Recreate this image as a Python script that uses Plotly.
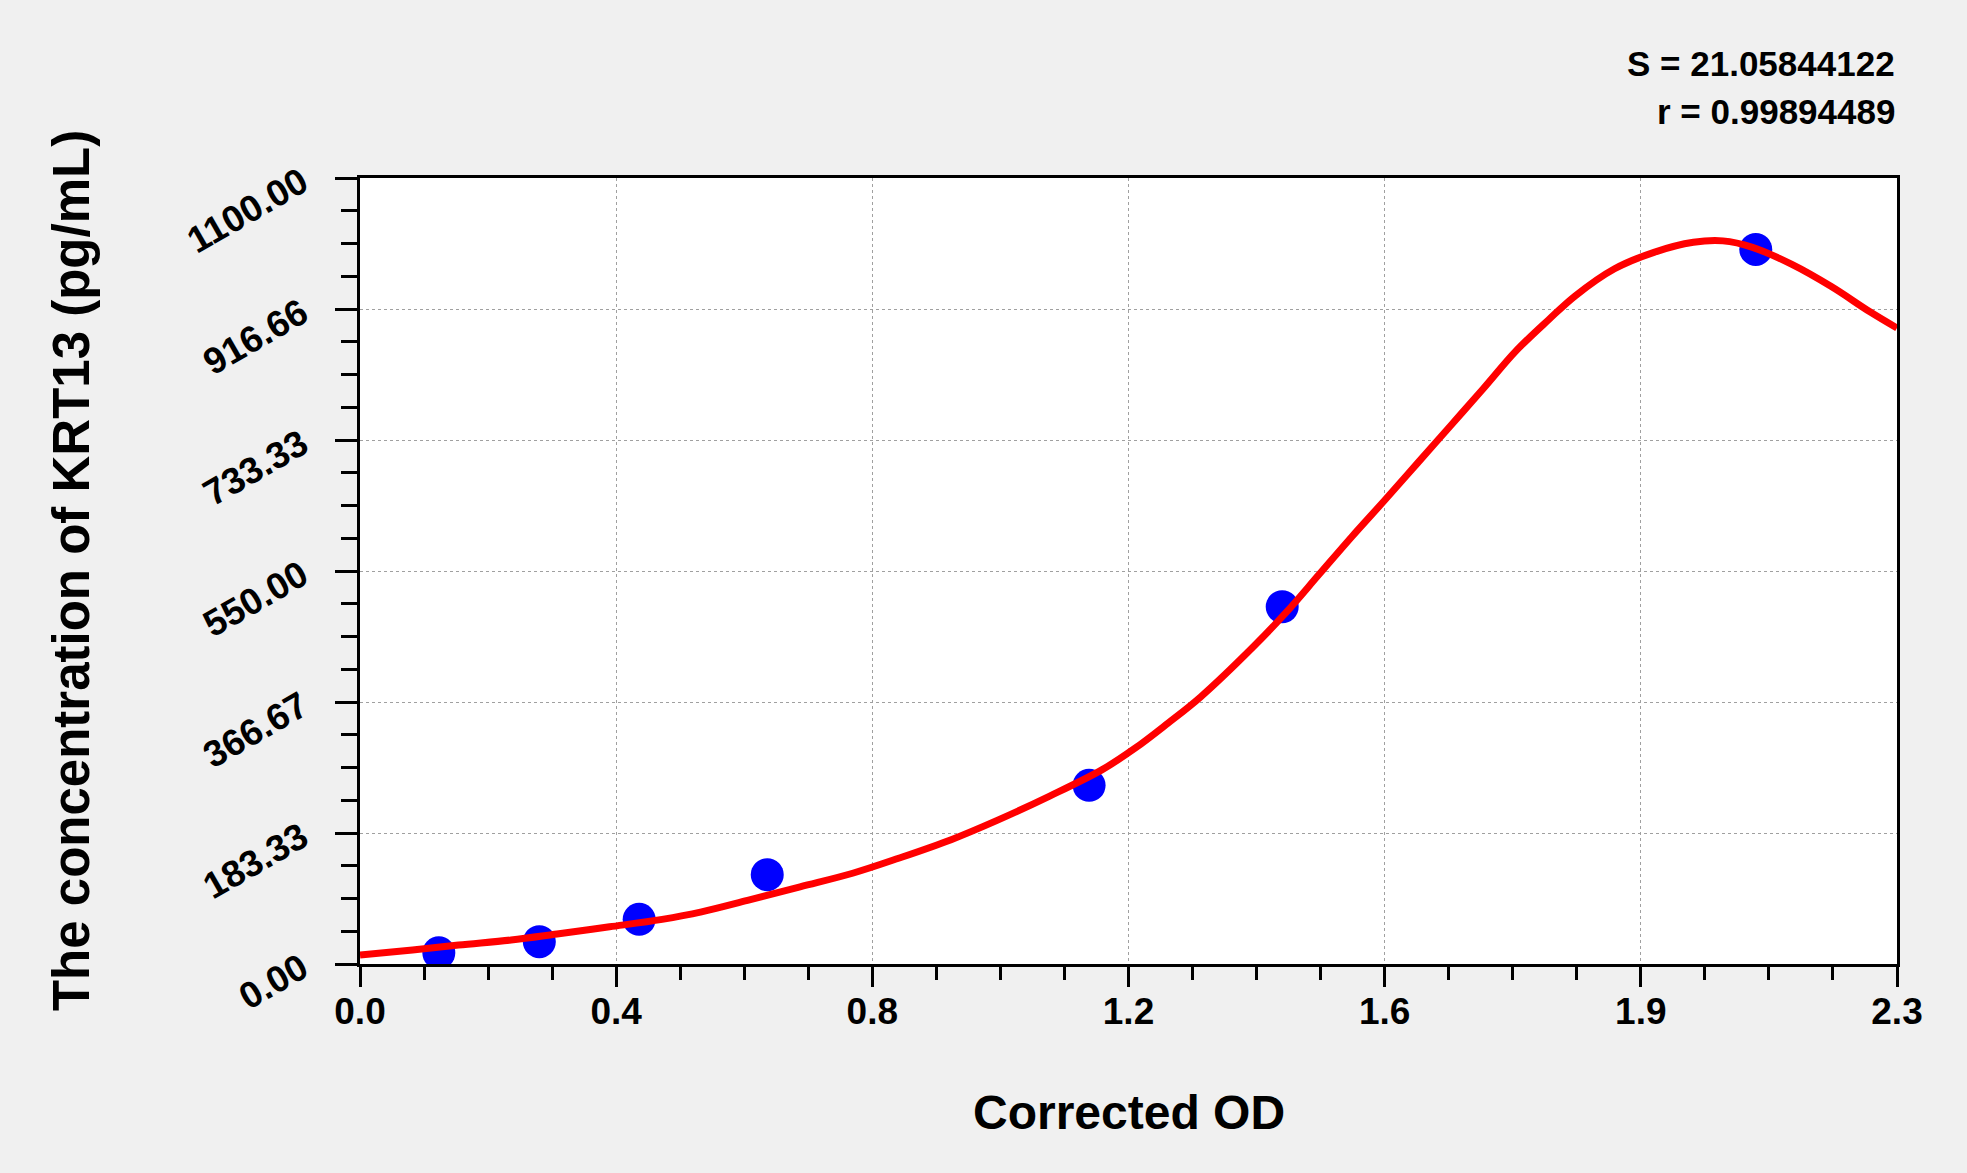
import plotly.graph_objects as go

# standards: corrected OD vs concentration
od_points = [0.120, 0.273, 0.425, 0.620, 1.110, 1.404, 2.125]
conc_points = [15.625, 31.25, 62.5, 125, 250, 500, 1000]

# fitted curve
od_curve = [0.00, 0.08, 0.15, 0.23, 0.30, 0.38, 0.46, 0.52, 0.59, 0.67, 0.75, 0.82,
            0.90, 0.97, 1.05, 1.13, 1.18, 1.23, 1.28, 1.36, 1.41, 1.46, 1.51, 1.56,
            1.61, 1.66, 1.71, 1.76, 1.81, 1.85, 1.91, 1.97, 2.03, 2.075, 2.12, 2.18,
            2.24, 2.30, 2.34]
conc_curve = [12.6, 19.6, 26.6, 33.6, 42, 52, 62.5, 73, 89, 108, 127, 148,
              174, 201, 235, 272, 302, 337, 374, 444, 492, 545, 598, 649,
              701, 753, 805, 858, 902, 935, 973, 996, 1010, 1012, 1003, 979,
              948, 912, 890]

x_tickvals = [0, 0.39, 0.78, 1.17, 1.56, 1.95, 2.34]
x_ticktext = ['0.0', '0.4', '0.8', '1.2', '1.6', '1.9', '2.3']
y_tickvals = [0, 183.33, 366.67, 550, 733.33, 916.66, 1100]
y_ticktext = ['0.00', '183.33', '366.67', '550.00', '733.33', '916.66', '1100.00']

S_text = 'S = 21.05844122'
r_text = 'r = 0.99894489'

FONT = 'Liberation Sans, Arial, sans-serif'

fig = go.Figure()
fig.add_trace(go.Scatter(x=od_points, y=conc_points, mode='markers',
                         marker=dict(color='#0000ff', size=33), showlegend=False))
fig.add_trace(go.Scatter(x=od_curve, y=conc_curve, mode='lines',
                         line=dict(color='#ff0000', width=7, shape='spline'),
                         showlegend=False))

axis_common = dict(showline=True, linecolor='black', linewidth=3, mirror=True,
                   ticks='outside', tickcolor='black', tickwidth=3,
                   showgrid=True, gridcolor='#a0a0a0', griddash='dot', gridwidth=1,
                   zeroline=False, tickmode='array',
                   tickfont=dict(family=FONT, size=37, color='black', weight='bold'))

fig.update_xaxes(range=[0, 2.34], tickvals=x_tickvals, ticktext=x_ticktext, ticklen=20,
                 ticklabelstandoff=-7,
                 minor=dict(tickmode='linear', tick0=0, dtick=0.0975, ticklen=13,
                            tickwidth=3, tickcolor='black', ticks='outside', showgrid=False),
                 **axis_common)
fig.update_yaxes(range=[0, 1100], tickvals=y_tickvals, ticktext=y_ticktext, ticklen=22,
                 tickangle=-30, ticklabelstandoff=26,
                 minor=dict(tickmode='linear', tick0=0, dtick=1100 / 24, ticklen=16,
                            tickwidth=3, tickcolor='black', ticks='outside', showgrid=False),
                 **axis_common)

fig.add_annotation(text=S_text, xref='paper', yref='paper', x=1.0, y=1.1463,
                   xanchor='right', yanchor='middle', showarrow=False,
                   font=dict(family=FONT, size=35, color='black', weight='bold'))
fig.add_annotation(text=r_text, xref='paper', yref='paper', x=1.0, y=1.084,
                   xanchor='right', yanchor='middle', showarrow=False,
                   font=dict(family=FONT, size=35, color='black', weight='bold'))
fig.add_annotation(text='Corrected OD', xref='paper', yref='paper', x=0.5, y=-0.1883,
                   xanchor='center', yanchor='middle', showarrow=False,
                   font=dict(family=FONT, size=48, color='black', weight='bold'))
fig.add_annotation(text='The concentration of KRT13 (pg/mL)', xref='paper', yref='paper',
                   x=-0.188, y=0.5, xanchor='center', yanchor='middle', textangle=-90,
                   showarrow=False,
                   font=dict(family=FONT, size=51, color='black', weight='bold'))

fig.update_layout(width=1967, height=1173,
                  margin=dict(l=360, r=70, t=178, b=209),
                  paper_bgcolor='#f0f0f0', plot_bgcolor='white')

fig.write_html("out.html", config={'displayModeBar': False},
               post_script="document.body.style.margin='0';"
                           "document.body.style.background='#f0f0f0';")
